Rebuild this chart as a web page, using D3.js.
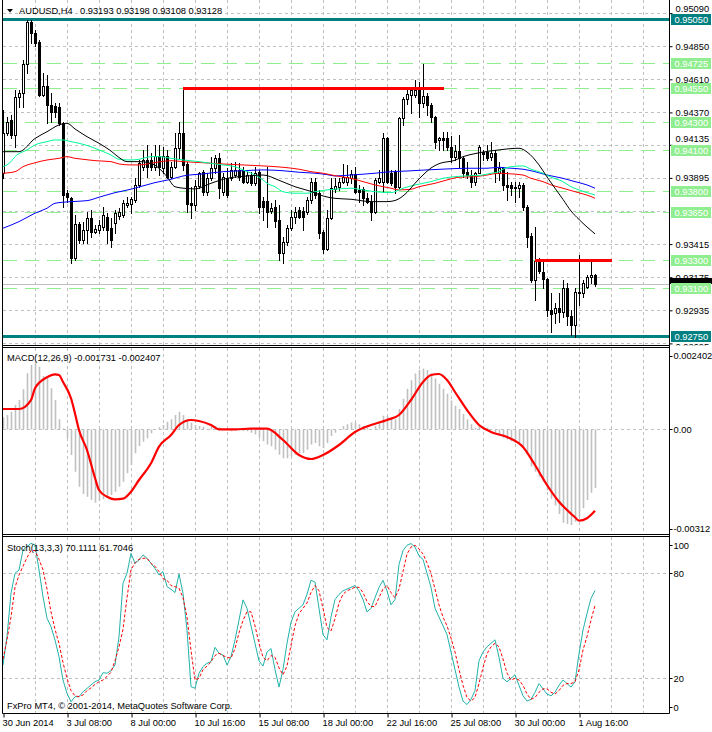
<!DOCTYPE html>
<html><head><meta charset="utf-8">
<script src="https://cdn.jsdelivr.net/npm/d3@7"></script>
<style>
body{margin:0;background:#fff;}
svg{display:block;}
text{font-family:"Liberation Sans",Arial,sans-serif;font-size:9.3px;fill:#000;}
</style></head><body>
<svg id="c" width="712" height="732"></svg>
<script>
// ---------- DATA ----------
const symbolTitle = "AUDUSD,H4";
const lastOHLC = "0.93193 0.93198 0.93108 0.93128";
const openP = [0.93931,0.94219,0.94315,0.94206,0.94482,0.94511,0.94721,0.95028,0.94948,0.94883,
0.94496,0.94562,0.94424,0.94419,0.94411,0.94291,0.93786,0.93750,0.93315,0.93561,
0.93445,0.93518,0.93605,0.93505,0.93518,0.93541,0.93614,0.93532,0.93568,0.93619,
0.93626,0.93699,0.93706,0.93735,0.93844,0.93976,0.94025,0.94025,0.93972,0.94056,
0.93967,0.94056,0.93904,0.93976,0.94112,0.94221,0.93996,0.93713,0.93699,0.93837,
0.93938,0.93795,0.93895,0.93967,0.94040,0.93795,0.93895,0.93895,0.93916,0.93953,
0.93953,0.93868,0.93916,0.93856,0.93938,0.93728,0.93728,0.93655,0.93684,0.93590,
0.93351,0.93431,0.93532,0.93614,0.93663,0.93655,0.93650,0.93735,0.93868,0.93786,
0.93505,0.93378,0.93605,0.93815,0.93831,0.93868,0.93868,0.93892,0.93921,0.93808,
0.93815,0.93747,0.93723,0.93646,0.93868,0.93868,0.94182,0.93929,0.93936,0.93831,
0.94327,0.94465,0.94496,0.94496,0.94533,0.94436,0.94489,0.94424,0.94335,0.94170,
0.94187,0.94187,0.94121,0.94049,0.94092,0.94037,0.93936,0.93916,0.93868,0.93933,
0.94085,0.94085,0.94045,0.94074,0.93929,0.93965,0.93844,0.93844,0.93831,0.93820,
0.93844,0.93686,0.93474,0.93155,0.93295,0.93215,0.93160,0.92938,0.92918,0.92950,
0.92925,0.93095,0.92894,0.92829,0.93070,0.93059,0.93106,0.93179,0.93193];
const highP = [0.94388,0.94339,0.94351,0.94533,0.94533,0.94750,0.95040,0.95040,0.94968,0.94895,
0.94656,0.94641,0.94511,0.94438,0.94436,0.94303,0.93808,0.93759,0.93626,0.93578,
0.93578,0.93650,0.93663,0.93554,0.93590,0.93686,0.93641,0.93605,0.93663,0.93677,
0.93735,0.93759,0.93759,0.93895,0.94025,0.94098,0.94134,0.94076,0.94134,0.94134,
0.94121,0.94098,0.94013,0.94221,0.94301,0.94549,0.94013,0.93831,0.93880,0.93940,
0.93953,0.93931,0.94049,0.94061,0.94076,0.93931,0.93967,0.94003,0.94013,0.94003,
0.93976,0.93940,0.93940,0.93976,0.93953,0.93759,0.93976,0.93711,0.93735,0.93699,
0.93469,0.93554,0.93663,0.93686,0.93686,0.93686,0.93759,0.93895,0.93895,0.93808,
0.93518,0.93663,0.93895,0.93895,0.93892,0.93996,0.93989,0.93953,0.93976,0.93844,
0.93831,0.93784,0.93771,0.93892,0.93953,0.94219,0.94194,0.93953,0.93953,0.94339,
0.94480,0.94533,0.94540,0.94605,0.94593,0.94719,0.94509,0.94436,0.94344,0.94194,
0.94230,0.94230,0.94199,0.94134,0.94206,0.94049,0.94013,0.93953,0.93940,0.94134,
0.94098,0.94134,0.94158,0.94098,0.94013,0.93976,0.93940,0.93868,0.93868,0.93868,
0.93856,0.93699,0.93494,0.93541,0.93312,0.93288,0.93167,0.93059,0.92986,0.93059,
0.93155,0.93131,0.92938,0.93095,0.93336,0.93155,0.93191,0.93305,0.93198];
const lowP = [0.93895,0.94206,0.94185,0.94119,0.94409,0.94409,0.94656,0.94873,0.94852,0.94489,
0.94489,0.94293,0.94301,0.94339,0.94279,0.93686,0.93723,0.93276,0.93300,0.93423,
0.93423,0.93423,0.93469,0.93494,0.93496,0.93518,0.93423,0.93396,0.93496,0.93597,
0.93614,0.93684,0.93641,0.93723,0.93831,0.93953,0.93904,0.93953,0.93953,0.93916,
0.93929,0.93892,0.93892,0.93967,0.94040,0.93953,0.93650,0.93605,0.93663,0.93822,
0.93771,0.93771,0.93880,0.93931,0.93750,0.93771,0.93759,0.93880,0.93904,0.93880,
0.93856,0.93856,0.93844,0.93844,0.93641,0.93590,0.93541,0.93639,0.93541,0.93300,
0.93276,0.93409,0.93518,0.93566,0.93602,0.93518,0.93634,0.93711,0.93747,0.93457,
0.93349,0.93373,0.93595,0.93795,0.93808,0.93856,0.93844,0.93856,0.93784,0.93723,
0.93699,0.93711,0.93590,0.93639,0.93856,0.93795,0.93856,0.93844,0.93788,0.93820,
0.94279,0.94429,0.94364,0.94484,0.94339,0.94411,0.94351,0.94303,0.94110,0.94098,
0.94098,0.94098,0.94013,0.94025,0.93976,0.93904,0.93892,0.93831,0.93844,0.93929,
0.94025,0.94025,0.94025,0.93868,0.93880,0.93808,0.93735,0.93771,0.93723,0.93759,
0.93663,0.93396,0.93143,0.93010,0.93204,0.93095,0.92894,0.92780,0.92841,0.92853,
0.92889,0.92829,0.92756,0.92744,0.92974,0.93034,0.93095,0.93131,0.93108];
const closeP = [0.94221,0.94303,0.94206,0.94482,0.94511,0.94721,0.95028,0.94948,0.94875,0.94496,
0.94562,0.94424,0.94375,0.94375,0.94291,0.93771,0.93755,0.93315,0.93561,0.93445,
0.93518,0.93605,0.93505,0.93525,0.93554,0.93626,0.93518,0.93445,0.93641,0.93648,
0.93713,0.93715,0.93742,0.93844,0.94003,0.94025,0.93976,0.93976,0.94056,0.93976,
0.94056,0.93904,0.93976,0.94112,0.94221,0.93989,0.93706,0.93699,0.93837,0.93931,
0.93795,0.93895,0.93967,0.94040,0.93822,0.93904,0.93771,0.93953,0.93953,0.93904,
0.93868,0.93916,0.93856,0.93929,0.93686,0.93686,0.93650,0.93679,0.93585,0.93351,
0.93431,0.93532,0.93614,0.93650,0.93614,0.93610,0.93735,0.93868,0.93771,0.93498,
0.93378,0.93605,0.93822,0.93837,0.93868,0.93900,0.93904,0.93921,0.93795,0.93795,
0.93747,0.93723,0.93646,0.93880,0.93892,0.94182,0.93868,0.93856,0.93831,0.94327,
0.94465,0.94501,0.94533,0.94533,0.94436,0.94489,0.94424,0.94335,0.94158,0.94187,
0.94170,0.94117,0.94049,0.94092,0.94037,0.93929,0.93916,0.93868,0.93933,0.94121,
0.94069,0.94037,0.94074,0.93929,0.93965,0.93844,0.93831,0.93820,0.93820,0.93844,
0.93686,0.93469,0.93155,0.93295,0.93222,0.93160,0.92938,0.92909,0.92950,0.92925,
0.93095,0.92894,0.92829,0.93070,0.93059,0.93131,0.93179,0.93191,0.93128];

// moving averages read at sample bars: [bar, price]
const maBlack = [[0,0.94085],[4,0.94085],[8,0.94181],[11,0.94230],[14,0.94279],[16,0.94291],[18,0.94250],[21,0.94194],[24,0.94146],[27,0.94090],[29,0.94043],[31,0.94013],[34,0.94013],[37,0.94000],[39,0.93965],[41,0.93904],[43,0.93831],[46,0.93818],[48,0.93815],[52,0.93856],[56,0.93892],[59,0.93904],[62,0.93911],[65,0.93916],[69,0.93878],[73,0.93831],[77,0.93797],[80,0.93764],[83,0.93747],[87,0.93740],[92,0.93723],[96,0.93723],[98,0.93731],[101,0.93790],[103,0.93856],[105,0.93916],[107,0.93967],[109,0.93998],[113,0.94023],[115,0.94049],[118,0.94071],[124,0.94098],[129,0.94110],[131,0.94083],[134,0.93989],[136,0.93902],[138,0.93820],[140,0.93739],[142,0.93655],[144,0.93594],[146,0.93539],[148,0.93489]];
const maGreen = [[0,0.93976],[2,0.94013],[3,0.94049],[6,0.94098],[8,0.94134],[11,0.94158],[13,0.94170],[15,0.94170],[17,0.94158],[19,0.94146],[22,0.94121],[24,0.94098],[27,0.94061],[29,0.94030],[32,0.94025],[34,0.94030],[37,0.94049],[39,0.94049],[42,0.94037],[45,0.94025],[49,0.94013],[52,0.94001],[55,0.93989],[58,0.93976],[60,0.93953],[63,0.93916],[65,0.93880],[66,0.93856],[68,0.93831],[70,0.93795],[73,0.93784],[76,0.93784],[78,0.93795],[81,0.93808],[83,0.93813],[87,0.93820],[90,0.93808],[93,0.93795],[97,0.93788],[98,0.93795],[100,0.93820],[103,0.93844],[107,0.93868],[110,0.93892],[113,0.93904],[117,0.93911],[120,0.93916],[122,0.93929],[124,0.93940],[125,0.93958],[127,0.93976],[130,0.93982],[132,0.93958],[135,0.93929],[137,0.93900],[140,0.93868],[142,0.93831],[144,0.93808],[146,0.93788],[148,0.93771]];
const maRed = [[0,0.93929],[3,0.93940],[5,0.93976],[8,0.94005],[11,0.94025],[14,0.94037],[16,0.94049],[18,0.94037],[20,0.94030],[23,0.94020],[27,0.94013],[29,0.93996],[32,0.93989],[34,0.93989],[37,0.94001],[39,0.94011],[42,0.94020],[45,0.94013],[50,0.94005],[55,0.93996],[60,0.93989],[65,0.93982],[70,0.93972],[74,0.93958],[77,0.93940],[80,0.93929],[83,0.93911],[87,0.93892],[90,0.93868],[93,0.93844],[97,0.93820],[99,0.93808],[102,0.93813],[104,0.93831],[108,0.93856],[111,0.93880],[114,0.93900],[118,0.93904],[121,0.93916],[124,0.93929],[126,0.93926],[130,0.93916],[132,0.93892],[135,0.93868],[137,0.93844],[140,0.93820],[142,0.93803],[145,0.93779],[147,0.93760],[148,0.93747]];
const maBlue = [[0,0.93530],[4,0.93578],[8,0.93639],[11,0.93675],[13,0.93711],[17,0.93723],[21,0.93730],[24,0.93755],[28,0.93788],[32,0.93813],[35,0.93837],[38,0.93861],[42,0.93885],[45,0.93909],[50,0.93924],[55,0.93940],[60,0.93947],[65,0.93953],[70,0.93947],[74,0.93936],[78,0.93929],[81,0.93919],[83,0.93909],[87,0.93916],[93,0.93929],[96,0.93938],[101,0.93945],[106,0.93953],[111,0.93960],[116,0.93965],[121,0.93965],[124,0.93972],[126,0.93967],[130,0.93958],[133,0.93940],[136,0.93916],[140,0.93892],[143,0.93868],[146,0.93844],[148,0.93820]];

const priceTicks = [0.95090,0.94850,0.94610,0.94370,0.94135,0.93895,0.93655,0.93415,0.93175,0.92935,0.92695];
const priceTickLabels = [0.95090,0.94850,0.94610,0.94370,0.94135,0.93895,0.93415,0.93175,0.92935,0.92695];
const greenLevels = [0.94725,0.94550,0.94300,0.94100,0.93800,0.93650,0.93300,0.93100];
const tealLevels = [0.95050,0.92750];
const redSegments = [{from:45,to:110.25,price:0.94550},{from:133,to:152.25,price:0.93300}];
const bidPrice = 0.93128;

const macdTitle = "MACD(12,26,9) -0.001731 -0.002407";
const macdMain = [0.000354,0.000423,0.000522,0.000718,0.000866,0.001181,0.001653,0.001899,0.001968,0.001850,
0.001574,0.001506,0.001210,0.000866,0.000295,0.000030,-0.000266,-0.000758,-0.001250,-0.001692,
-0.001909,-0.001988,-0.002086,-0.002165,-0.002106,-0.002066,-0.001988,-0.001938,-0.001840,-0.001692,
-0.001545,-0.001299,-0.001053,-0.000708,-0.000492,-0.000364,-0.000266,-0.000118,-0.000020,0.000059,
0.000128,0.000226,0.000295,0.000423,0.000522,0.000423,0.000300,0.000200,0.000130,0.000100,
0.000080,0.000020,0.000080,0.000100,0.000060,0.000000,-0.000030,-0.000060,-0.000040,-0.000010,
-0.000050,-0.000060,-0.000100,-0.000150,-0.000250,-0.000350,-0.000450,-0.000500,-0.000600,-0.000750,
-0.000850,-0.000850,-0.000800,-0.000750,-0.000700,-0.000700,-0.000600,-0.000450,-0.000400,-0.000500,
-0.000550,-0.000400,-0.000200,-0.000100,0.000000,0.000100,0.000150,0.000200,0.000200,0.000150,
0.000100,0.000050,0.000000,0.000100,0.000200,0.000400,0.000400,0.000350,0.000300,0.000600,
0.000900,0.001200,0.001450,0.001650,0.001750,0.001800,0.001750,0.001650,0.001500,0.001350,
0.001200,0.001050,0.000850,0.000700,0.000600,0.000450,0.000300,0.000150,0.000050,0.000100,
0.000100,0.000050,0.000000,-0.000100,-0.000150,-0.000250,-0.000300,-0.000350,-0.000400,-0.000400,
-0.000500,-0.000750,-0.001100,-0.001250,-0.001400,-0.001550,-0.001800,-0.002050,-0.002250,-0.002500,
-0.002757,-0.002795,-0.002825,-0.002727,-0.002579,-0.002332,-0.002086,-0.001871,-0.001731];
const macdSignal = [[0,0.000601],[4,0.000601],[7,0.000866],[8,0.001212],[11,0.001537],[13,0.001625],[14,0.001605],[15,0.001398],[17,0.000917],[18,0.000470],[19,-0.000019],[21,-0.000610],[23,-0.001437],[24,-0.001791],[26,-0.001989],[28,-0.002066],[30,-0.002048],[32,-0.001841],[34,-0.001496],[37,-0.001003],[39,-0.000512],[42,-0.000167],[44,0.000128],[47,0.000276],[49,0.000246],[52,0.000128],[54,0.000001],[58,0.000000],[62,0.000019],[66,0.000019],[70,-0.000315],[74,-0.000758],[77,-0.000876],[80,-0.000758],[84,-0.000462],[88,-0.000078],[92,0.000128],[96,0.000276],[99,0.000424],[102,0.000867],[105,0.001398],[107,0.001605],[109,0.001634],[111,0.001457],[113,0.001103],[116,0.000571],[119,0.000128],[122,-0.000078],[126,-0.000226],[130,-0.000521],[133,-0.001053],[136,-0.001644],[139,-0.002137],[141,-0.002382],[143,-0.002597],[144,-0.002697],[146,-0.002627],[148,-0.002407]];
const macdLabels = ["0.002402","0.00","-0.00312"];

const stochTitle = "Stoch(13,3,3) 70.1111 61.7046";
const stochK = [27.6,43.8,68.6,80.0,81.9,93.3,95.2,97.1,96.2,81.9,
66.6,54.3,49.5,41.9,32.3,19.0,11.4,6.6,9.5,9.5,
12.3,14.2,16.2,18.1,19.0,23.2,22.9,24.4,27.6,43.8,
74.3,80.0,91.4,85.7,87.6,90.5,88.6,85.7,82.8,79.0,
81.0,72.4,70.9,69.0,79.6,68.6,47.6,15.2,14.3,22.9,
26.7,28.6,29.5,37.7,34.3,33.3,27.6,32.4,41.9,53.3,
64.8,60.0,50,40,30,27,35,37,25,15,
25,40,52,58,60,62,68,76,75,60,
45,42,55,65,68,70,71,72,73,70,
65,58,60,66,72,76,70,62,65,85,
93,96,97,95,90,88,80,72,60,55,
50,45,35,25,15,7,5,8,13,30,
35,38,40,42,32,20,18,20,22,16,
10,7,8,12,17,14,11,10,12,16,
19,17,15,18,34,47.6,57,65.7,70.1111];
const stochD = [31,42,55,72,79,84,89,93,93,88,
82,71,58,48,40,29,20,13,10,9.5,
10.5,13,14.5,16.5,18,19,21,23.5,30,38,
48,66,82,86,88,88.6,88.6,85.7,84,81,
77,76,73,72.4,71.5,66,55,36,19,20,
25,27,29.5,33,34.3,33,32,31.5,37,46,
53,58,58,50,40,32,30,33,32,26,
22,27,39,50,57,60,63,69,73,70,
60,49,47,54,63,68,70,71,72,72,
69,64,61,61,66,71,73,69,66,71,
81,91,95,96,94,91,86,80,71,62,
55,50,43,35,25,16,9,7,9,17,
26,34,38,40,38,31,23,19,20,19,
16,11,8,9,12,14,14,12,11,13,
16,17,17,18,24.8,36.2,43.8,53.3,61.7046];
const stochLevels = [80,20];
const stochLabels = ["100","80","20","0"];

const xTickBars = [0,16,32,48,64,80,96,112,128,144];
const xLabels = ["30 Jun 2014","3 Jul 08:00","8 Jul 00:00","10 Jul 16:00","15 Jul 08:00","18 Jul 00:00","22 Jul 16:00","25 Jul 08:00","30 Jul 00:00","1 Aug 16:00"];
const copyright = "FxPro MT4, \u00A9 2001-2014, MetaQuotes Software Corp.";

// ---------- LAYOUT ----------
const L = 2.5, R = 669.5;
const main = {top:0, bottom:345};
const mp = {top:347.5, bottom:534.5};
const sp = {top:536.5, bottom:713.5};
const GRID = "#c0c0c0";

const svg = d3.select("#c");
const x = d3.scaleLinear().domain([0,148]).range([3,595]);
const yP = d3.scaleLinear().domain([0.92695,0.95090]).range([343.4,13.1]);
const yM = d3.scaleLinear().domain([-0.00312,0.002402]).range([535,348]);
const yS = d3.scaleLinear().domain([0,100]).range([713.3,538.3]);
const px = v => Math.round(v)+0.5;

const defs = svg.append("defs");
function clip(id, y0, y1){
  defs.append("clipPath").attr("id",id).append("rect").attr("x",3).attr("y",y0).attr("width",R-3).attr("height",y1-y0);
  return svg.append("g").attr("clip-path",`url(#${id})`);
}
const gMain = clip("cm", 0, 345);
const gMacd = clip("cmacd", 348, 534);
const gSto = clip("csto", 537, 713);
// clip for the price-axis group (its own coordinates start at the axis line)
defs.append("clipPath").attr("id","caxis").append("rect").attr("x",-1).attr("y",0).attr("width",50).attr("height",345.5);

// vertical grid
const vBars = d3.range(8, 168, 8);
[[gMain,0,345],[gMacd,348,534],[gSto,537,713]].forEach(([g,y0,y1])=>{
  g.selectAll(null).data(vBars).enter().append("line")
   .attr("x1",d=>px(x(d))).attr("x2",d=>px(x(d))).attr("y1",y0).attr("y2",y1)
   .attr("stroke",GRID).attr("stroke-dasharray","3,3");
});
// horizontal grid main
gMain.selectAll(null).data(priceTicks).enter().append("line")
  .attr("x1",3).attr("x2",R).attr("y1",d=>px(yP(d))).attr("y2",d=>px(yP(d)))
  .attr("stroke",GRID).attr("stroke-dasharray","3,3");
// bid line
gMain.append("line").attr("x1",3).attr("x2",R).attr("y1",px(yP(bidPrice))).attr("y2",px(yP(bidPrice)))
  .attr("stroke","#c0c0c0");
// green levels
gMain.selectAll(null).data(greenLevels).enter().append("line")
  .attr("x1",3).attr("x2",R).attr("y1",d=>px(yP(d))).attr("y2",d=>px(yP(d)))
  .attr("stroke","#90ee90").attr("stroke-dasharray","14,8");
// teal levels
gMain.selectAll(null).data(tealLevels).enter().append("line")
  .attr("x1",3).attr("x2",R).attr("y1",d=>px(yP(d))).attr("y2",d=>px(yP(d)))
  .attr("stroke","#008080").attr("stroke-width",3);

// candles
const idx = d3.range(openP.length);
const cg = gMain.append("g");
idx.forEach(i=>{
  const cx = Math.round(x(i));
  cg.append("line").attr("x1",cx+0.5).attr("x2",cx+0.5)
    .attr("y1",Math.round(yP(highP[i]))).attr("y2",Math.round(yP(lowP[i]))+1)
    .attr("stroke","#000");
  const o=openP[i], c=closeP[i];
  const yt = px(yP(Math.max(o,c))), yb = px(yP(Math.min(o,c)));
  if (yb-yt < 1){
    cg.append("line").attr("x1",cx-1).attr("x2",cx+2).attr("y1",yt).attr("y2",yt).attr("stroke","#000");
  } else {
    cg.append("rect").attr("x",cx-0.5).attr("width",2).attr("y",yt).attr("height",yb-yt)
      .attr("fill", c>=o ? "#fff" : "#000").attr("stroke","#000");
  }
});

// moving averages
const maLine = d3.line().x(d=>x(d[0])).y(d=>yP(d[1])).curve(d3.curveMonotoneX);
[[maBlue,"#0000ff"],[maRed,"#ff0000"],[maGreen,"#00fa9a"],[maBlack,"#000000"]].forEach(([d,c])=>{
  gMain.append("path").attr("d",maLine(d)).attr("fill","none").attr("stroke",c).attr("stroke-width",1);
});

// red horizontal segments
gMain.selectAll(null).data(redSegments).enter().append("line")
  .attr("x1",d=>x(d.from)).attr("x2",d=>x(d.to)).attr("y1",d=>px(yP(d.price))).attr("y2",d=>px(yP(d.price)))
  .attr("stroke","#ff0000").attr("stroke-width",3);

// ---------- MACD ----------
gMacd.append("line").attr("x1",3).attr("x2",R).attr("y1",px(yM(0))).attr("y2",px(yM(0)))
  .attr("stroke",GRID).attr("stroke-dasharray","3,3");
gMacd.selectAll(null).data(idx).enter().append("line")
  .attr("x1",i=>Math.round(x(i))+0.5).attr("x2",i=>Math.round(x(i))+0.5)
  .attr("y1",px(yM(0))).attr("y2",i=>yM(macdMain[i]))
  .attr("stroke","#c0c0c0").attr("stroke-width",1.6);
const sigLine = d3.line().x(d=>x(d[0])).y(d=>yM(d[1])).curve(d3.curveMonotoneX);
gMacd.append("path").attr("d",sigLine(macdSignal)).attr("fill","none").attr("stroke","#ff0000").attr("stroke-width",2.2);

// ---------- STOCH ----------
gSto.selectAll(null).data(stochLevels).enter().append("line")
  .attr("x1",3).attr("x2",R).attr("y1",d=>px(yS(d))).attr("y2",d=>px(yS(d)))
  .attr("stroke",GRID).attr("stroke-dasharray","3,3");
const kLine = d3.line().x((d,i)=>x(i)).y(d=>yS(d));
gSto.append("path").attr("d",kLine(stochK)).attr("fill","none").attr("stroke","#20b2aa").attr("stroke-width",1);
gSto.append("path").attr("d",kLine(stochD)).attr("fill","none").attr("stroke","#ff0000").attr("stroke-width",1).attr("stroke-dasharray","3,2");

// ---------- FRAMES ----------
const fr = svg.append("g").attr("fill","none").attr("stroke","#000");
fr.append("line").attr("x1",L).attr("x2",L).attr("y1",0).attr("y2",sp.bottom);
fr.append("line").attr("x1",R).attr("x2",R).attr("y1",0).attr("y2",sp.bottom);
[main.bottom+0.5, mp.top, mp.bottom, sp.top, sp.bottom].forEach(y=>{
  fr.append("line").attr("x1",L).attr("x2",R).attr("y1",y).attr("y2",y);
});

// ---------- AXES ----------
const ax = svg.append("g").attr("transform",`translate(${R},0)`).attr("clip-path","url(#caxis)")
  .call(d3.axisRight(yP).tickValues(priceTickLabels).tickFormat(d=>d.toFixed(5)).tickSize(3).tickPadding(3).tickSizeOuter(0));
ax.select(".domain").remove();
ax.attr("font-size",null).attr("font-family",null);
// partially hidden labels sit just beside the level boxes that cover them in the terminal
const labelShift = {"0.95090":-4.5, "0.94135":-6, "0.92695":3.5};
ax.selectAll(".tick text").attr("y", d => labelShift[d.toFixed(5)] || 0);

function labelBox(y, txt, bg){
  const g = svg.append("g");
  g.append("rect").attr("x",R+1.5).attr("y",Math.round(y)-5).attr("width",40).attr("height",11).attr("fill",bg);
  g.append("text").attr("x",R+5).attr("y",Math.round(y)+0.5).attr("dy","0.35em").style("fill","#fff").text(txt);
}
// bid price marker (mostly covered by the level labels, as in the terminal)
svg.append("rect").attr("x",R+0.5).attr("y",Math.round(yP(bidPrice))-6).attr("width",42).attr("height",6).attr("fill","#000");
greenLevels.forEach(v=>labelBox(yP(v), v.toFixed(5), "#90ee90"));
tealLevels.forEach(v=>labelBox(yP(v), v.toFixed(5), "#008080"));

// macd labels
const macdLabY = [yM(0.002402)+8, yM(0), yM(-0.00312)-6];
macdLabels.forEach((t,i)=>{
  svg.append("line").attr("x1",R).attr("x2",R+3).attr("y1",px(macdLabY[i])).attr("y2",px(macdLabY[i])).attr("stroke","#000");
  svg.append("text").attr("x",R+4).attr("y",macdLabY[i]).attr("dy","0.35em").text(t);
});
// stoch labels
const stoLabY = [yS(100)+7, yS(80), yS(20), yS(0)-6];
stochLabels.forEach((t,i)=>{
  svg.append("line").attr("x1",R).attr("x2",R+3).attr("y1",px(stoLabY[i])).attr("y2",px(stoLabY[i])).attr("stroke","#000");
  svg.append("text").attr("x",R+4).attr("y",stoLabY[i]).attr("dy","0.35em").text(t);
});

// x axis
const xa = svg.append("g").attr("transform",`translate(0,${sp.bottom})`)
  .call(d3.axisBottom(x).tickValues(xTickBars).tickFormat((d,i)=>xLabels[i]).tickSize(4).tickPadding(2).tickSizeOuter(0));
xa.select(".domain").remove();
xa.attr("font-size",null).attr("font-family",null);
xa.selectAll("text").attr("text-anchor","start").attr("x",-1);
xa.selectAll(".tick line").attr("transform","translate(0.5,0)");

// titles
svg.append("path").attr("d","M7,9 L13,9 L10,12.5 Z").attr("fill","#000");
svg.append("text").attr("x",19).attr("y",14).text(symbolTitle);
svg.append("text").attr("x",80).attr("y",14).text(lastOHLC);
svg.append("text").attr("x",7).attr("y",361).text(macdTitle);
svg.append("text").attr("x",7).attr("y",551).text(stochTitle);
svg.append("text").attr("x",7).attr("y",709).text(copyright);
</script>
</body></html>
